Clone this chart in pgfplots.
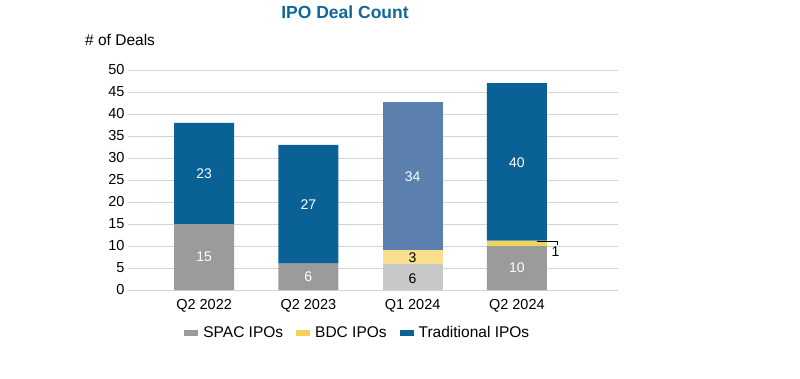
\documentclass[border=0pt]{standalone}
\usepackage{pgfplots}
\pgfplotsset{compat=1.18}
\usepackage{fontspec}
\setmainfont{Liberation Sans}
\definecolor{spac}{HTML}{9B9B9B}
\definecolor{bdc}{HTML}{F0D35A}
\definecolor{trad}{HTML}{0A6196}
\definecolor{spacL}{HTML}{C8C8C8}
\definecolor{bdcL}{HTML}{F7DF8E}
\definecolor{tradL}{HTML}{5B80AE}
\definecolor{titleblue}{HTML}{10679A}
\definecolor{gridc}{HTML}{D4D4D4}
\begin{document}
\begin{tikzpicture}
\useasboundingbox (0pt,0pt) rectangle (800pt,378pt);
\begin{axis}[
  at={(128pt,88pt)}, anchor=south west,
  scale only axis, width=490pt, height=220pt,
  ymin=0, ymax=50, ytick={0,5,...,50},
  xmin=-0.73, xmax=3.97,
  xtick={0,1,2,3},
  xticklabels={Q2 2022,Q2 2023,Q1 2024,Q2 2024},
  axis line style={draw=none},
  major tick length=0pt,
  ymajorgrids, grid style={gridc, line width=0.8pt},
  ybar stacked, bar width=60pt,
  tick label style={font=\fontsize{14.5}{16}\selectfont},
  /pgf/number format/assume math mode=true,
  xticklabel style={yshift=-6pt},
  legend columns=3,
  legend style={draw=none, at={(0.469,-0.195)}, anchor=center,
    font=\fontsize{15.5}{17}\selectfont,
    /tikz/every odd column/.append style={column sep=3pt},
    /tikz/every even column/.append style={column sep=11pt}},
  legend image code/.code={\draw[#1,draw=none] (0pt,-3pt) rectangle (14pt,3pt);},
  clip=false,
  after end axis/.code={
    \node[white, font=\fontsize{14}{15}\selectfont] at (axis cs:0,7.5) {15};
    \node[white, font=\fontsize{14}{15}\selectfont] at (axis cs:0,26.5) {23};
    \node[white, font=\fontsize{14}{15}\selectfont] at (axis cs:1,3) {6};
    \node[white, font=\fontsize{14}{15}\selectfont] at (axis cs:1,19.5) {27};
    \node[black, font=\fontsize{14}{15}\selectfont] at (axis cs:2,2.6) {6};
    \node[black, font=\fontsize{14}{15}\selectfont] at (axis cs:2,7.3) {3};
    \node[white, font=\fontsize{14}{15}\selectfont] at (axis cs:2,25.8) {34};
    \node[white, font=\fontsize{14}{15}\selectfont] at (axis cs:3,5) {10};
    \node[white, font=\fontsize{14}{15}\selectfont] at (axis cs:3,29) {40};
    \node[black, font=\fontsize{14}{15}\selectfont] at (axis cs:3.37,8.6) {1};
    \draw[black, line width=0.6pt] (axis cs:3.19,11.1) -- (axis cs:3.385,11.1) -- (axis cs:3.385,10.2);
  },
]
\addplot[fill=spac, draw=none] coordinates {(0,15) (1,6) (2,0) (3,10)};
\addplot[fill=bdc, draw=none] coordinates {(0,0) (1,0) (2,0) (3,1.2)};
\addplot[fill=trad, draw=none] coordinates {(0,23) (1,27) (2,0) (3,35.8)};
\addplot[fill=spacL, draw=none] coordinates {(0,0) (1,0) (2,6) (3,0)};
\addplot[fill=bdcL, draw=none] coordinates {(0,0) (1,0) (2,3) (3,0)};
\addplot[fill=tradL, draw=none] coordinates {(0,0) (1,0) (2,33.7) (3,0)};
\legend{SPAC IPOs, BDC IPOs, Traditional IPOs}
\end{axis}
\node[font=\bfseries\fontsize{17.5}{20}\selectfont, text=titleblue] at (345pt,366pt) {IPO Deal Count};
\node[anchor=west, font=\fontsize{15.5}{17}\selectfont, inner sep=0pt] at (85pt,338pt) {\# of Deals};
\end{tikzpicture}
\end{document}
